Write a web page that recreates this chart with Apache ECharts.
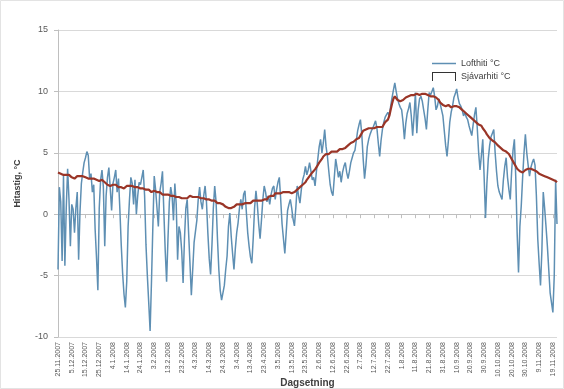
<!DOCTYPE html>
<html><head><meta charset="utf-8">
<script src="https://cdn.jsdelivr.net/npm/echarts@6/dist/echarts.min.js"></script>
<style>html,body{margin:0;padding:0;background:#fff}#c{width:564px;height:389px}</style>
</head><body><div id="c"></div>
<script>
// Start date of the series and the axis tick labels
var startDate = [2007, 11, 25];
var yTicks = [-10, -5, 0, 5, 10, 15];
var legendNames = ['Lofthiti °C', 'Sjávarhiti °C'];

// Lofthiti (air temperature), daily, °C
var airTemp = [
 -4.5, 2.2, 1.0, -3.8, 3.1, -4.2, 0.5, 3.7, 1.2, -2.6,
 0.8, 0.4, -1.5, 0.5, 1.8, -3.7, 0.2, 2.5, 3.4, 4.2,
 4.6, 5.1, 4.8, 2.9, 3.3, 1.8, 2.4, -1.2, -3.5, -6.2,
 0.5, 2.8, 3.6, 2.2, -2.6, 1.5, 3.0, 3.8, 2.1, 0.3,
 2.5, 3.0, 3.6, 1.8, 2.9, 0.4, -2.5, -4.8, -6.5, -7.6,
 -5.5, -1.0, 1.2, 3.0, 2.5, 0.8, 2.8, 0.0, 1.5, 2.6,
 2.4, 3.0, 3.6, 1.5, -2.5, -5.0, -7.2, -9.5, -5.5, -1.0,
 3.1, 2.0, 0.5, -1.0, 1.8, 2.5, 3.5, 0.2, -3.0, -5.5,
 -2.0, 1.0, 2.2, 1.5, -0.5, 2.5, 0.8, -3.7, -1.0, -1.5,
 -3.0, -5.6, -2.0, 0.5, 1.2, -1.5, -4.0, -6.6, -4.5, -2.3,
 -2.3, -0.5, 1.2, 2.2, 1.0, 0.4, 1.5, 2.3, 1.0, -1.5,
 -3.6, -4.9, -2.5, 0.5, 2.3, 1.0, -2.0, -4.5, -6.2, -7.0,
 -6.4, -5.8, -4.5, -3.4, -1.0, 0.1, -1.8, -3.2, -4.5, -2.8,
 -1.5, -0.7, 0.5, 1.2, 0.4, 1.6, 1.9, 0.2, -1.5, -2.6,
 -3.5, -4.0, -2.0, 0.5, 1.9, 0.8, -0.8, -2.0, -0.5, 1.2,
 2.3, 1.8, 1.0, 1.5, 0.8, 1.6, 2.1, 2.3, 1.2, 2.0,
 2.6, 3.0, 1.2, -0.8, -2.0, -3.2, -1.5, 0.3, 0.8, 1.2,
 0.5, -0.4, -0.95, 0.5, 2.3, 1.5, 0.9, 2.0, 2.8, 3.2,
 3.9, 3.2, 3.6, 4.2, 3.5, 2.8, 3.0, 2.3, 3.5, 4.5,
 5.5, 6.1, 5.0, 5.8, 6.9, 5.5, 4.7, 3.5, 2.4, 1.8,
 1.5, 3.0, 4.5, 3.8, 3.0, 3.5, 2.6, 3.4, 3.9, 4.2,
 3.4, 2.9, 3.5, 4.2, 4.6, 5.0, 5.2, 6.0, 6.8, 7.3,
 7.7, 6.5, 4.5, 2.9, 4.0, 5.5, 6.1, 6.5, 6.8, 7.0,
 7.3, 7.6, 7.0, 5.8, 4.7, 6.0, 6.9, 7.5, 7.9, 8.1,
 8.3, 8.0, 8.8, 9.5, 10.1, 10.7, 10.0, 9.4, 9.0, 8.7,
 8.5, 7.5, 6.1, 7.4, 8.2, 8.6, 9.1, 8.0, 6.4, 8.0,
 9.9, 6.6, 8.5, 9.4, 9.6, 9.2, 8.5, 7.8, 6.9, 8.5,
 9.9, 9.7, 10.0, 10.3, 9.6, 8.5, 8.8, 9.4, 9.0, 9.1,
 8.0, 6.8, 5.6, 4.7, 6.0, 7.5, 8.3, 8.8, 9.5, 9.8,
 10.2, 9.5, 9.0, 8.8, 8.5, 8.0, 8.3, 7.9, 7.7, 7.2,
 6.8, 6.4, 7.3, 8.1, 8.7, 7.0, 5.0, 3.6, 4.8, 6.1,
 3.0, -0.3, 2.5, 4.5, 5.6, 6.3, 6.6, 6.9, 5.0, 3.5,
 2.3, 1.8, 1.5, 1.2, 2.8, 3.9, 4.6, 3.0, 2.0, 1.2,
 3.5, 5.2, 6.1, 3.0, -1.5, -4.75, -1.0, 0.7, 3.0, 5.0,
 6.5, 5.0, 4.0, 3.1, 3.8, 4.2, 4.5, 4.0, 1.5, -2.0,
 -4.0, -5.8, -3.0, 1.8, 0.5, -1.0, -2.6, -4.5, -6.4, -7.2,
 -8.0, -5.0, 2.8, -0.8
];

// Sjávarhiti (sea temperature), daily, °C
var seaTemp = [
 3.4, 3.4, 3.3, 3.3, 3.2, 3.3, 3.2, 3.1, 3.2, 3.1,
 3.0, 3.0, 2.9, 3.0, 3.1, 3.0, 3.1, 3.2, 3.1, 3.0,
 3.0, 2.9, 2.9, 3.0, 2.9, 2.8, 2.9, 2.8, 2.8, 2.7,
 2.7, 2.8, 2.8, 2.7, 2.6, 2.5, 2.4, 2.4, 2.3, 2.4,
 2.4, 2.3, 2.4, 2.3, 2.2, 2.3, 2.2, 2.1, 2.1, 2.2,
 2.3, 2.4, 2.3, 2.2, 2.3, 2.2, 2.2, 2.1, 2.2, 2.1,
 2.1, 2.0, 2.1, 2.0, 2.0, 1.9, 2.0, 1.9, 1.8, 1.9,
 1.9, 1.8, 1.8, 1.7, 1.8, 1.7, 1.6, 1.7, 1.6, 1.5,
 1.6, 1.5, 1.5, 1.4, 1.5, 1.4, 1.4, 1.3, 1.4, 1.3,
 1.3, 1.4, 1.3, 1.4, 1.3, 1.4, 1.5, 1.4, 1.4, 1.3,
 1.4, 1.3, 1.4, 1.4, 1.3, 1.2, 1.3, 1.2, 1.2, 1.1,
 1.2, 1.1, 1.1, 1.0, 1.1, 1.0, 0.9, 1.0, 0.9, 0.8,
 0.8, 0.7, 0.6, 0.7, 0.5, 0.6, 0.5, 0.4, 0.6, 0.7,
 0.8, 0.7, 0.8, 0.7, 0.8, 0.8, 0.9, 0.8, 0.9, 1.0,
 0.9, 1.0, 1.1, 1.0, 1.1, 1.2, 1.1, 1.2, 1.1, 1.2,
 1.2, 1.3, 1.2, 1.4, 1.3, 1.5, 1.6, 1.5, 1.7, 1.6,
 1.7, 1.8, 1.7, 1.8, 1.8, 1.7, 1.8, 1.7, 1.8, 1.8,
 1.7, 1.8, 1.8, 1.9, 2.0, 2.1, 2.2, 2.3, 2.4, 2.5,
 2.6, 2.8, 2.9, 3.1, 3.2, 3.4, 3.5, 3.65, 3.8, 4.0,
 4.2, 4.3, 4.5, 4.7, 4.8, 4.9, 5.0, 4.9, 5.0, 5.1,
 5.0, 5.1, 5.2, 5.1, 5.2, 5.3, 5.2, 5.3, 5.4, 5.4,
 5.5, 5.6, 5.7, 5.8, 5.8, 5.9, 6.0, 6.1, 6.1, 6.2,
 6.4, 6.6, 6.8, 6.9, 6.9, 7.0, 7.0, 6.9, 7.0, 7.1,
 7.0, 7.1, 7.1, 7.0, 7.1, 7.1, 7.1, 7.3, 7.5, 7.6,
 7.7, 8.0, 8.5, 9.0, 9.4, 9.6, 9.5, 9.3, 9.2, 9.2,
 9.2, 9.3, 9.4, 9.5, 9.6, 9.6, 9.7, 9.7, 9.8, 9.7,
 9.75, 9.8, 9.8, 9.7, 9.8, 9.8, 9.7, 9.8, 9.7, 9.7,
 9.7, 9.6, 9.7, 9.6, 9.6, 9.5, 9.4, 9.3, 9.1, 9.0,
 8.9, 8.9, 8.8, 8.8, 8.9, 8.8, 8.7, 8.8, 8.8, 8.8,
 8.8, 8.8, 8.7, 8.6, 8.5, 8.4, 8.3, 8.2, 8.1, 8.0,
 7.9, 7.8, 7.7, 7.6, 7.5, 7.4, 7.3, 7.2, 7.2, 7.0,
 6.9, 6.7, 6.5, 6.4, 6.2, 6.1, 6.0, 5.9, 5.85, 5.7,
 5.6, 5.5, 5.4, 5.3, 5.2, 5.2, 5.1, 5.1, 4.9, 4.7,
 4.5, 4.3, 4.1, 3.9, 3.7, 3.6, 3.5, 3.5, 3.4, 3.5,
 3.6, 3.6, 3.7, 3.7, 3.7, 3.6, 3.6, 3.65, 3.5, 3.4,
 3.3, 3.3, 3.2, 3.1, 3.1, 3.0, 3.0, 2.9, 2.9, 2.8,
 2.8, 2.7, 2.7, 2.6
];

// Category dates (one per day), formatted d.m.yyyy
var dates = [];
var d0 = new Date(startDate[0], startDate[1] - 1, startDate[2]);
for (var i = 0; i < airTemp.length; i++) {
  var dt = new Date(d0.getFullYear(), d0.getMonth(), d0.getDate() + i);
  dates.push(dt.getDate() + '.' + (dt.getMonth() + 1) + '.' + dt.getFullYear());
}

var chart = echarts.init(document.getElementById('c'), null, {renderer: 'canvas'});
var font = 'Liberation Sans, Arial, sans-serif';
chart.setOption({
  animation: false,
  backgroundColor: '#fff',
  textStyle: {fontFamily: font},
  graphic: [{type: 'rect', shape: {x: 0.5, y: 0.5, width: 563, height: 388},
    style: {fill: 'none', stroke: '#e3e3e3', lineWidth: 1}, silent: true}],
  grid: {left: 58, right: 7, top: 30, bottom: 52, containLabel: false, outerBoundsMode: 'none'},
  legend: {
    orient: 'vertical', left: 432, top: 59, padding: 0, itemGap: 4, itemWidth: 24, itemHeight: 9,
    textStyle: {fontSize: 9, color: '#404040', fontFamily: font},
    data: [
      {name: legendNames[0], icon: 'path://M0,4 L24,4 L24,5.5 L0,5.5 Z', itemStyle: {color: '#5e8fb3'}},
      {name: legendNames[1], icon: 'path://M0,9 L0,0 L24,0 L24,9 L23,9 L23,1 L1,1 L1,9 Z', itemStyle: {color: '#333333'}}
    ]
  },
  xAxis: {
    type: 'category', data: dates, boundaryGap: false,
    name: 'Dagsetning', nameLocation: 'middle', nameGap: 41, nameMoveOverlap: false,
    nameTextStyle: {fontSize: 10, fontWeight: 'bold', color: '#404040'},
    axisLine: {lineStyle: {color: '#bfbfbf'}},
    axisTick: {interval: 9, length: 4, lineStyle: {color: '#bfbfbf'}},
    axisLabel: {interval: 9, rotate: 90, fontSize: 7, color: '#595959', margin: 5},
    splitLine: {show: false}
  },
  yAxis: {
    type: 'value', min: yTicks[0], max: yTicks[yTicks.length - 1], interval: 5,
    name: 'Hitastig, °C', nameLocation: 'middle', nameGap: 36, nameRotate: 90, nameMoveOverlap: false,
    nameTextStyle: {fontSize: 9, fontWeight: 'bold', color: '#404040'},
    axisLine: {show: true, lineStyle: {color: '#bfbfbf'}},
    axisTick: {show: true, length: 4, lineStyle: {color: '#bfbfbf'}},
    axisLabel: {fontSize: 9, color: '#595959', margin: 10},
    splitLine: {lineStyle: {color: '#d9d9d9', width: 1}}
  },
  series: [
    {name: legendNames[0], type: 'line', data: airTemp, symbol: 'none',
      lineStyle: {color: '#5e8fb3', width: 1.5}, itemStyle: {color: '#5e8fb3'}, z: 2},
    {name: legendNames[1], type: 'line', data: seaTemp, symbol: 'none',
      lineStyle: {color: '#9a3527', width: 2.2}, itemStyle: {color: '#9a3527'}, z: 3}
  ]
});
</script></body></html>
